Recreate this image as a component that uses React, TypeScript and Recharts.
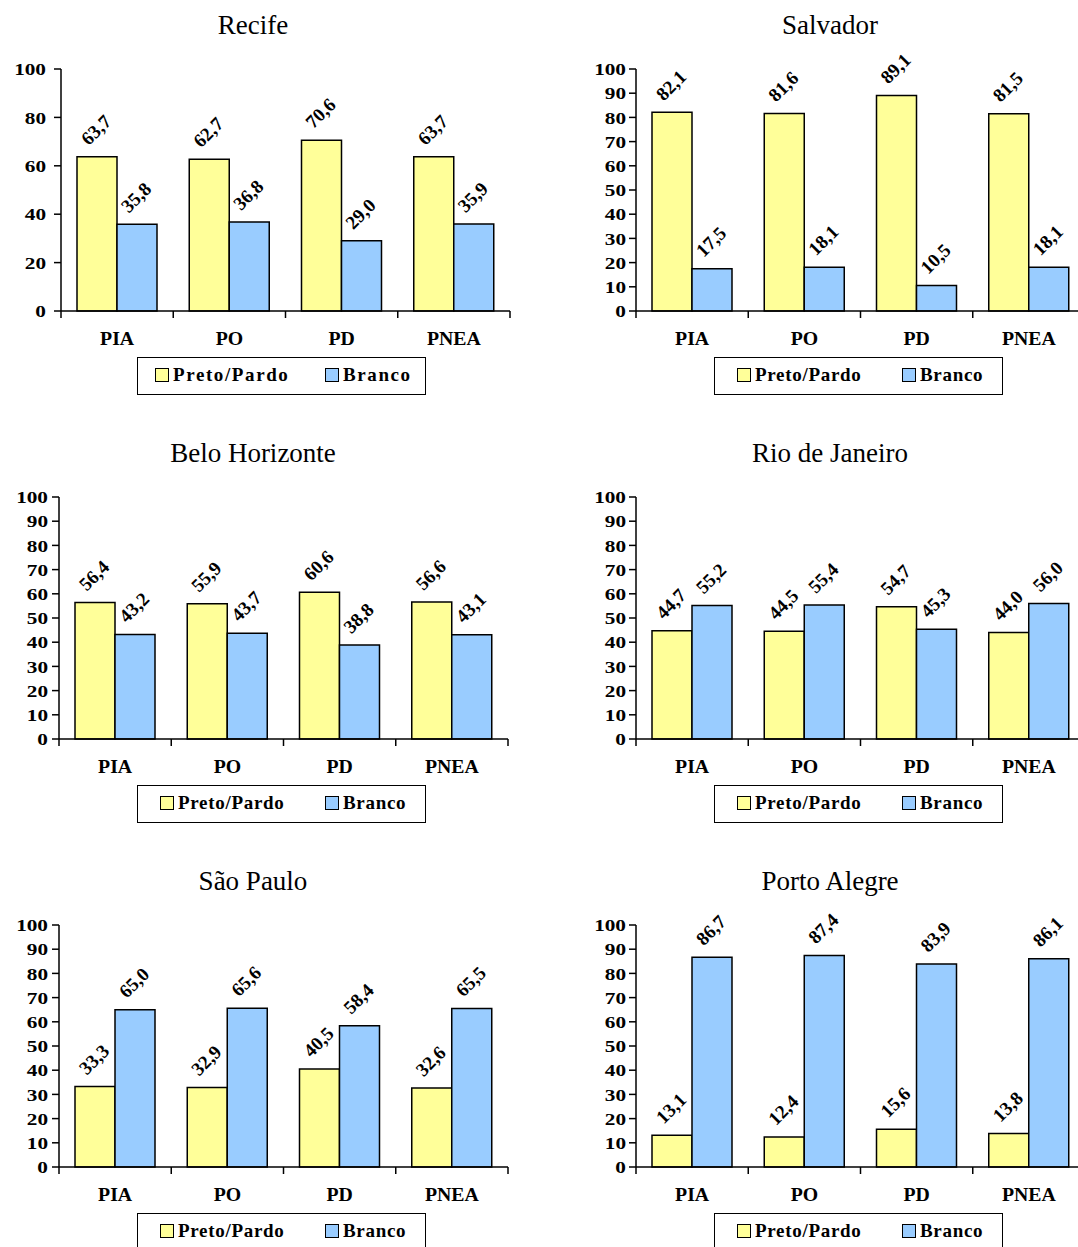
import React from "react";
import { BarChart, Bar, XAxis, YAxis } from "recharts";

const CATEGORIES = ["PIA", "PO", "PD", "PNEA"];

const recifePreto = [63.7, 62.7, 70.6, 63.7];
const recifeBranco = [35.8, 36.8, 29.0, 35.9];
const salvadorPreto = [82.1, 81.6, 89.1, 81.5];
const salvadorBranco = [17.5, 18.1, 10.5, 18.1];
const bhPreto = [56.4, 55.9, 60.6, 56.6];
const bhBranco = [43.2, 43.7, 38.8, 43.1];
const rioPreto = [44.7, 44.5, 54.7, 44.0];
const rioBranco = [55.2, 55.4, 45.3, 56.0];
const spPreto = [33.3, 32.9, 40.5, 32.6];
const spBranco = [65.0, 65.6, 58.4, 65.5];
const poaPreto = [13.1, 12.4, 15.6, 13.8];
const poaBranco = [86.7, 87.4, 83.9, 86.1];

const TICKS_20 = [0, 20, 40, 60, 80, 100];
const TICKS_10 = [0, 10, 20, 30, 40, 50, 60, 70, 80, 90, 100];

const YELLOW = "#FFFF99";
const BLUE = "#99CCFF";
const SERIF = "'Liberation Serif', 'Times New Roman', serif";

const PLOT_W = 449;
const PLOT_H = 242;
const BAND = PLOT_W / CATEGORIES.length;
const TOP_PAD = 20;
const X_AXIS_H = 40;

interface Panel {
  title: string;
  preto: number[];
  branco: number[];
  ticks: number[];
  svgLeft: number;
  axisX: number;
  plotTop: number;
  titleX: number;
  legendLeft: number;
  legendWide?: boolean;
  tickMargin: number;
}

const panels: Panel[] = [
  { title: "Recife", preto: recifePreto, branco: recifeBranco, ticks: TICKS_20, svgLeft: 0, axisX: 61, plotTop: 69, titleX: 253, legendLeft: 137, legendWide: true, tickMargin: 8 },
  { title: "Salvador", preto: salvadorPreto, branco: salvadorBranco, ticks: TICKS_10, svgLeft: 575, axisX: 636, plotTop: 69, titleX: 830, legendLeft: 714, tickMargin: 3 },
  { title: "Belo Horizonte", preto: bhPreto, branco: bhBranco, ticks: TICKS_10, svgLeft: 0, axisX: 59, plotTop: 497, titleX: 253, legendLeft: 137, tickMargin: 4 },
  { title: "Rio de Janeiro", preto: rioPreto, branco: rioBranco, ticks: TICKS_10, svgLeft: 575, axisX: 636, plotTop: 497, titleX: 830, legendLeft: 714, tickMargin: 3 },
  { title: "São Paulo", preto: spPreto, branco: spBranco, ticks: TICKS_10, svgLeft: 0, axisX: 59, plotTop: 925, titleX: 253, legendLeft: 137, tickMargin: 4 },
  { title: "Porto Alegre", preto: poaPreto, branco: poaBranco, ticks: TICKS_10, svgLeft: 575, axisX: 636, plotTop: 925, titleX: 830, legendLeft: 714, tickMargin: 3 },
];

const fmt = (v: number) => v.toFixed(1).replace(".", ",");

// value label written diagonally above each bar
const renderValueLabel = (props: any) => {
  const { x, y, width, value } = props;
  const cx = Number(x) + Number(width) / 2 - 1;
  const cy = Number(y) - 27;
  return (
    <text
      x={cx}
      y={cy}
      textAnchor="middle"
      dominantBaseline="central"
      transform={`rotate(-45 ${cx} ${cy})`}
      fontFamily={SERIF}
      fontWeight="bold"
      fontSize={19}
      fill="#000"
    >
      {fmt(Number(value))}
    </text>
  );
};

// category label plus the tick marks on the category boundaries
const CategoryTick = (props: any) => {
  const { x, y, payload, index } = props;
  const left = x - BAND / 2;
  const right = x + BAND / 2;
  return (
    <g>
      <line x1={left} y1={y} x2={left} y2={y + 7} stroke="#000" strokeWidth={1.5} />
      {index === CATEGORIES.length - 1 && (
        <line x1={right} y1={y} x2={right} y2={y + 7} stroke="#000" strokeWidth={1.5} />
      )}
      <text
        transform={`translate(${x},${y + 34}) scale(1.1,1)`}
        textAnchor="middle"
        fontFamily={SERIF}
        fontWeight="bold"
        fontSize={18}
        fill="#000"
      >
        {payload.value}
      </text>
    </g>
  );
};

const ValueTick = (props: any) => {
  const { x, y, payload } = props;
  return (
    <text
      transform={`translate(${x},${y}) scale(1.25,1)`}
      dy="0.36em"
      textAnchor="end"
      fontFamily={SERIF}
      fontWeight="bold"
      fontSize={17}
      fill="#000"
    >
      {payload.value}
    </text>
  );
};

const Swatch = ({ color }: { color: string }) => (
  <span
    style={{
      display: "inline-block",
      width: 12,
      height: 12,
      background: color,
      border: "1.5px solid #000",
      marginRight: 4,
    }}
  />
);

const LegendBox = ({ left, top, wide }: { left: number; top: number; wide?: boolean }) => {
  const textStyle: React.CSSProperties = {
    fontFamily: SERIF,
    fontWeight: "bold",
    fontSize: 19,
    letterSpacing: wide ? 1.6 : 0.7,
  };
  return (
    <div
      style={{
        position: "absolute",
        left,
        top,
        width: 289,
        height: 38,
        border: "1.5px solid #000",
        boxSizing: "border-box",
        background: "#fff",
      }}
    >
      <div style={{ position: "absolute", left: wide ? 17 : 22, top: 6, display: "flex", alignItems: "center" }}>
        <Swatch color={YELLOW} />
        <span style={textStyle}>Preto/Pardo</span>
      </div>
      <div style={{ position: "absolute", left: 187, top: 6, display: "flex", alignItems: "center" }}>
        <Swatch color={BLUE} />
        <span style={textStyle}>Branco</span>
      </div>
    </div>
  );
};

const CityChart = ({ p }: { p: Panel }) => {
  const rows = CATEGORIES.map((cat, i) => ({ cat, preto: p.preto[i], branco: p.branco[i] }));
  const yWidth = p.axisX - p.svgLeft;
  const svgWidth = yWidth + PLOT_W + 10;
  const svgTop = p.plotTop - TOP_PAD;
  return (
    <>
      <div
        style={{
          position: "absolute",
          left: p.titleX - 200,
          width: 400,
          top: p.plotTop - 60,
          height: 32,
          lineHeight: "32px",
          textAlign: "center",
          fontFamily: SERIF,
          fontSize: 27,
          color: "#000",
        }}
      >
        {p.title}
      </div>
      <div style={{ position: "absolute", left: p.svgLeft, top: svgTop }}>
        <BarChart
          width={svgWidth}
          height={TOP_PAD + PLOT_H + X_AXIS_H}
          data={rows}
          margin={{ top: TOP_PAD, right: 10, left: 0, bottom: 0 }}
          barGap={0}
          barSize={40}
        >
          <XAxis
            dataKey="cat"
            interval={0}
            height={X_AXIS_H}
            tickSize={0}
            tickMargin={0}
            tickLine={false}
            axisLine={{ stroke: "#000", strokeWidth: 1.5 }}
            tick={<CategoryTick />}
          />
          <YAxis
            domain={[0, 100]}
            ticks={p.ticks}
            interval={0}
            width={yWidth}
            tickSize={7}
            tickMargin={p.tickMargin}
            axisLine={{ stroke: "#000", strokeWidth: 1.5 }}
            tickLine={{ stroke: "#000", strokeWidth: 1.5 }}
            tick={<ValueTick />}
          />
          <Bar dataKey="preto" fill={YELLOW} stroke="#000" strokeWidth={1.5} isAnimationActive={false} label={renderValueLabel} />
          <Bar dataKey="branco" fill={BLUE} stroke="#000" strokeWidth={1.5} isAnimationActive={false} label={renderValueLabel} />
        </BarChart>
      </div>
      <LegendBox left={p.legendLeft} top={p.plotTop + PLOT_H + 46} wide={p.legendWide} />
    </>
  );
};

export default function App() {
  return (
    <div
      style={{
        position: "absolute",
        left: 0,
        top: 0,
        width: 1078,
        height: 1247,
        overflow: "hidden",
        background: "#fff",
      }}
    >
      {panels.map((p) => (
        <CityChart key={p.title} p={p} />
      ))}
    </div>
  );
}
